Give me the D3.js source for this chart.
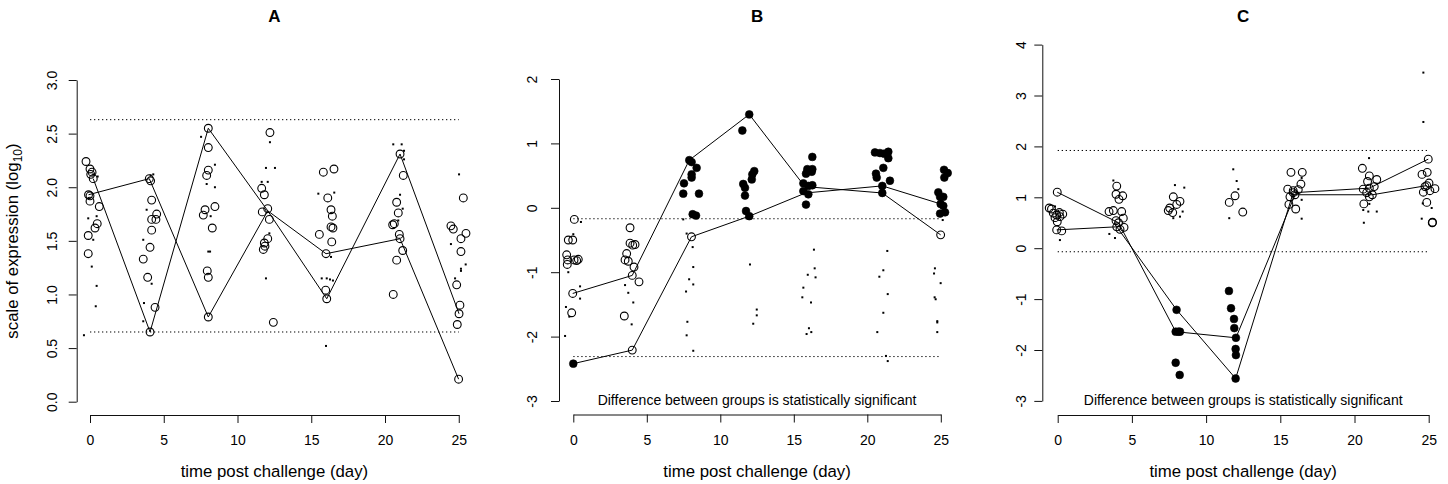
<!DOCTYPE html>
<html>
<head>
<meta charset="utf-8">
<script src="https://cdn.jsdelivr.net/npm/d3@7"></script>
<style>
  html, body { margin: 0; padding: 0; background: #fff; }
  svg { display: block; }
  text { font-family: "Liberation Sans", Arial, Helvetica, sans-serif; fill: #000; }
</style>
</head>
<body>
<svg id="chart" width="1448" height="484"></svg>
<script>
// ---------------- data ----------------
const dayTicks = [0, 5, 10, 15, 20, 25];
const panelTitles = ["A", "B", "C"];
const xTitle = "time post challenge (day)";
const yTitleMain = "scale of expression (log";
const yTitleSub = "10";
const noteText = "Difference between groups is statistically significant";

// Panel A — [day (jittered), log10 expression]
const yTicksA = [0, 0.5, 1, 1.5, 2, 2.5, 3];
const openA = [
  [-0.27,2.24],[0,2.17],[0.05,2.12],[0.14,2.14],[0.22,2.08],[-0.1,1.93],[0,1.92],[0,1.87],[0.63,1.82],[0.49,1.66],[0.34,1.62],[-0.12,1.55],[-0.12,1.38],
  [4.02,2.08],[4.11,2.06],[4.18,1.88],[4.52,1.75],[4.18,1.70],[4.47,1.70],[4.18,1.60],[4.07,1.44],[3.61,1.33],[3.91,1.16],[4.41,0.88],[4.07,0.65],
  [8.02,2.55],[8.02,2.37],[8.02,2.16],[7.91,2.11],[8.47,1.82],[7.68,1.74],[7.8,1.79],[8.29,1.62],[7.95,1.22],[8.02,1.16],[8.02,0.79],
  [12.2,2.51],[11.64,1.99],[11.82,1.93],[12.05,1.80],[11.68,1.77],[12.16,1.70],[12.05,1.52],[11.82,1.48],[11.75,1.42],[11.86,1.45],[12.43,0.74],
  [15.82,2.14],[16.54,2.17],[16.12,1.90],[16.34,1.79],[16.43,1.73],[16.34,1.63],[16.47,1.62],[15.55,1.56],[16.39,1.49],[16.0,1.38],[15.98,1.04],[16.05,0.96],
  [21.02,2.31],[21.24,2.11],[20.79,1.86],[20.9,1.76],[20.63,1.66],[20.52,1.65],[20.97,1.56],[21.02,1.52],[21.2,1.41],[20.79,1.32],[20.56,1.0],
  [25.31,1.90],[24.47,1.64],[24.63,1.61],[25.49,1.57],[25.15,1.52],[25.15,1.40],[24.86,1.09],[25.08,0.90],[25.02,0.82],[24.9,0.72],[24.99,0.21]
];
const filledA = [];
const dotsA = [
  [0.22,2.12],[0.52,2.10],[-0.12,1.71],[0.45,1.73],[0.22,1.51],[0.12,1.26],[0.45,1.08],[0.39,0.89],[-0.41,0.62],
  [4.11,2.11],[4.29,2.12],[3.84,1.79],[3.61,1.51],[4.18,1.10],[3.66,0.92],[3.61,0.75],
  [7.53,2.47],[8.47,2.21],[7.91,2.03],[8.47,2.0],[8.18,1.73],[8.02,1.40],[8.14,1.40],
  [12.2,2.42],[11.93,2.18],[12.54,2.18],[11.64,2.05],[12.05,2.05],[12.16,1.57],[11.93,1.15],
  [15.48,1.94],[16.56,1.95],[16.34,1.35],[15.71,1.15],[16.05,1.15],[16.27,1.14],[16.47,1.13],[16.0,0.52],
  [20.56,2.40],[21.13,2.40],[21.29,2.34],[21.29,2.26],[21.02,1.93],[21.2,1.80],[20.9,1.69],
  [25.02,2.12],[24.47,1.47],[25.15,1.24],[25.15,1.22],[25.47,1.28],[24.75,1.15]
];
const lineA1 = [[-0.1,1.93],[4.02,2.08],[8.02,0.79],[12.05,1.78],[16.0,1.38],[21.02,1.52],[24.99,0.21]];
const lineA2 = [[0.22,2.08],[4.07,0.65],[8.02,2.55],[12.05,1.78],[16.05,0.96],[21.02,2.31],[25.02,0.82]];
const cutA = [2.63, 0.65];

// Panel B
const yTicksB = [-3, -2, -1, 0, 1, 2];
const openB = [
  [0.07,-0.18],[-0.34,-0.50],[-0.04,-0.50],[-0.45,-0.73],[-0.38,-0.81],[-0.41,-0.88],[0.05,-0.81],[0.34,-0.80],[0.23,-0.82],[-0.04,-1.33],[-0.11,-1.63],
  [3.86,-0.31],[3.86,-0.55],[4.04,-0.58],[4.2,-0.57],[3.63,-0.71],[3.52,-0.81],[3.74,-0.83],[4.13,-0.92],[4.01,-1.05],[4.47,-1.15],[3.47,-1.68],[4.01,-2.21],
  [8.04,-0.45],
  [24.99,-0.42]
];
const filledB = [
  [0,-2.42],
  [7.89,0.74],[8.05,0.71],[8.39,0.62],[8.05,0.52],[8.05,0.47],[7.53,0.38],[7.48,0.22],[8.55,0.22],[8.12,-0.10],[8.35,-0.12],
  [11.97,1.45],[11.5,1.20],[12.31,0.57],[12.18,0.52],[12.14,0.44],[11.56,0.37],[11.68,0.31],[11.68,0.19],[11.75,-0.05],[11.97,-0.13],
  [16.26,0.79],[15.92,0.60],[16.26,0.60],[15.83,0.53],[16.22,0.56],[15.65,0.38],[15.99,0.34],[16.26,0.35],[15.65,0.26],[15.99,0.21],[15.83,0.05],
  [20.52,0.86],[20.86,0.85],[21.14,0.84],[21.43,0.87],[21.43,0.77],[21.09,0.62],[20.59,0.53],[20.64,0.47],[21.54,0.42],[21.02,0.34],[21.02,0.23],
  [25.22,0.59],[25.47,0.54],[25.24,0.47],[24.83,0.24],[24.95,0.17],[25.17,0.17],[24.99,0.06],[25.17,0.03],[24.95,-0.09],[25.29,-0.07]
];
const dotsB = [
  [0,-0.41],[0.52,-0.22],[-0.34,-1.0],[0.46,-1.22],[0.46,-1.41],[-0.5,-1.54],[-0.27,-1.69],[-0.56,-1.99],
  [3.52,-1.20],[3.74,-1.32],[4.08,-1.47],[3.97,-1.81],
  [7.48,-0.18],[7.71,-0.40],[8.12,-0.61],[8.16,-0.92],[7.88,-1.11],[8.16,-1.19],[7.67,-1.30],[7.76,-1.77],[7.71,-1.98],[8.16,-2.22],
  [12.02,-0.88],[12.48,-1.58],[12.48,-1.67],[12.24,-1.80],
  [16.37,-0.65],[16.42,-0.94],[15.95,-1.04],[16.48,-1.08],[15.65,-1.24],[15.58,-1.39],[16.17,-1.47],[16.03,-1.87],[15.87,-1.96],[16.19,-1.93],
  [21.36,-0.67],[21.09,-0.97],[20.82,-1.07],[21.39,-1.34],[21.09,-1.63],[20.68,-1.93],[21.27,-2.30],[21.39,-2.38],
  [25.13,-0.19],[24.6,-0.94],[24.54,-1.02],[24.99,-1.17],[24.58,-1.39],[24.65,-1.42],[24.76,-1.76],[24.76,-1.78],[24.76,-1.93]
];
const lineB1 = [[-0.04,-1.33],[4.01,-1.05],[7.89,0.74],[11.97,1.45],[15.75,0.33],[21.02,0.23],[24.99,-0.42]];
const lineB2 = [[0,-2.42],[4.01,-2.21],[8.04,-0.45],[11.97,-0.13],[15.8,0.23],[21.02,0.34],[24.99,0.06]];
const cutB = [-0.17, -2.31];

// Panel C
const yTicksC = [-3, -2, -1, 0, 1, 2, 3, 4];
const openC = [
  [-0.03,1.10],[-0.57,0.79],[-0.42,0.77],[-0.3,0.69],[-0.07,0.65],[0.11,0.70],[0.34,0.67],[-0.03,0.52],[-0.07,0.36],[0.27,0.34],[-0.18,0.60],[0.15,0.62],
  [3.98,1.22],[3.93,1.06],[4.38,1.03],[4.13,0.96],[3.46,0.72],[3.75,0.74],[4.31,0.72],[4.42,0.59],[3.93,0.54],[3.98,0.42],[4.47,0.41],[4.2,0.37],[4.1,0.5],
  [7.79,1.01],[8.24,0.92],[8.02,0.86],[7.55,0.79],[7.45,0.74],[7.75,0.70],
  [11.56,0.90],[11.95,1.03],[12.47,0.71],
  [15.72,1.49],[16.48,1.49],[16.39,1.26],[15.5,1.16],[16.21,1.15],[15.87,1.13],[15.65,1.01],[15.58,0.86],[16.04,0.77],[15.87,1.09],[15.99,1.05],
  [20.53,1.57],[21.0,1.42],[21.5,1.35],[20.88,1.31],[21.33,1.21],[20.59,1.16],[21.0,1.18],[20.82,1.09],[21.0,1.01],[20.63,0.87],[21.2,1.05],
  [24.97,1.75],[24.9,1.49],[24.55,1.45],[25.02,1.28],[24.75,1.21],[25.08,1.13],[25.42,1.17],[24.64,1.10],[24.87,0.90],[25.24,0.50],[25.26,0.51],[24.87,1.23]
];
const filledC = [
  [8.01,-1.21],[7.95,-1.64],[8.13,-1.64],[8.24,-1.64],[7.95,-2.25],[8.22,-2.49],
  [11.54,-0.84],[11.68,-1.18],[11.88,-1.39],[11.9,-1.57],[12.01,-1.76],[11.99,-1.98],[12.01,-2.10],[11.99,-2.56]
];
const dotsC = [
  [-0.18,0.82],[0.15,0.16],[0.04,0.73],
  [3.75,1.33],[3.48,0.28],[3.86,0.20],
  [7.9,1.24],[8.53,1.19],[7.79,0.59],[8.24,0.62],[8.42,0.72],
  [11.83,1.55],[12.06,1.32],[12.17,1.16],[11.56,0.59],
  [16.44,1.38],[16.44,0.95],[16.44,0.58],
  [20.98,1.77],[21.0,0.87],[20.59,0.75],[20.93,0.72],[21.5,0.72],[20.63,0.50],
  [24.64,3.45],[24.64,2.48],[24.6,0.88],[25.2,0.79],[24.53,0.58]
];
const lineC1 = [[-0.03,1.10],[4.1,0.5],[7.95,-1.64],[12.01,-1.76],[15.99,1.05],[21.2,1.05],[24.87,1.23]];
const lineC2 = [[-0.07,0.36],[3.98,0.42],[8.01,-1.21],[11.99,-2.56],[15.87,1.09],[21.0,1.18],[24.97,1.75]];
const cutC = [1.92, -0.07];

// ---------------- layout ----------------
const panels = [
  { title: panelTitles[0], xr: [90, 458.75], yd: [0, 3], yr: [401.7, 80], axX: 76.7, axY: 415, lblGap: 19.5,
    yTicks: yTicksA, fmt: d3.format(".1f"), open: openA, filled: filledA, dots: dotsA, lines: [lineA1, lineA2], cuts: cutA, note: false },
  { title: panelTitles[1], xr: [573.3, 940.8], yd: [-3, 2], yr: [401, 79], axX: 559, axY: 414.5, lblGap: 22,
    yTicks: yTicksB, fmt: d => String(d), open: openB, filled: filledB, dots: dotsB, lines: [lineB1, lineB2], cuts: cutB, note: true },
  { title: panelTitles[2], xr: [1057.7, 1428.7], yd: [-3, 4], yr: [400.9, 44.6], axX: 1042.3, axY: 415, lblGap: 16.5,
    yTicks: yTicksC, fmt: d => String(d), open: openC, filled: filledC, dots: dotsC, lines: [lineC1, lineC2], cuts: cutC, note: true }
];

const svg = d3.select("#chart");
svg.append("rect").attr("width", 1448).attr("height", 484).attr("fill", "#fff");

panels.forEach(p => {
  const x = d3.scaleLinear().domain([0, 25]).range(p.xr);
  const y = d3.scaleLinear().domain(p.yd).range(p.yr);
  const g = svg.append("g");
  const right = x(25) + (x(0) - p.axX);
  const cx = (p.axX + right) / 2;

  // y axis (R style: line spans first to last tick, labels rotated)
  const ya = g.append("g").attr("transform", `translate(${p.axX},0)`)
    .call(d3.axisLeft(y).tickValues(p.yTicks).tickSize(8).tickSizeOuter(0).tickFormat(p.fmt));
  ya.selectAll("path, line").attr("stroke", "#111").attr("stroke-width", 1);
  ya.selectAll("text")
    .attr("x", null).attr("y", null).attr("dy", null)
    .attr("text-anchor", "middle")
    .attr("transform", `translate(${-p.lblGap},0) rotate(-90)`)
    .style("font-size", "14px")
    .style("font-family", '"Liberation Sans", Arial, sans-serif');

  // x axis
  const xa = g.append("g").attr("transform", `translate(0,${p.axY})`)
    .call(d3.axisBottom(x).tickValues(dayTicks).tickSize(8).tickSizeOuter(0).tickFormat(d => String(d)));
  xa.selectAll("path, line").attr("stroke", "#111").attr("stroke-width", 1);
  xa.selectAll("text")
    .attr("y", 30).attr("dy", null)
    .style("font-size", "14px")
    .style("font-family", '"Liberation Sans", Arial, sans-serif');

  // x axis title
  g.append("text").attr("x", cx).attr("y", 476.5).attr("text-anchor", "middle")
    .style("font-size", "16.8px").text(xTitle);

  // panel title
  g.append("text").attr("x", cx).attr("y", 22).attr("text-anchor", "middle")
    .style("font-size", "17px").style("font-weight", "bold").text(p.title);

  // threshold lines
  g.selectAll(".cut").data(p.cuts).join("line")
    .attr("x1", x(0)).attr("x2", x(25))
    .attr("y1", d => y(d)).attr("y2", d => y(d))
    .attr("stroke", "#000").attr("stroke-width", 1).attr("stroke-dasharray", "1.3,2.7");

  // connecting lines
  const line = d3.line().x(d => x(d[0])).y(d => y(d[1]));
  g.selectAll(".trend").data(p.lines).join("path")
    .attr("d", line).attr("fill", "none").attr("stroke", "#000").attr("stroke-width", 1);

  // individual samples
  g.selectAll(".dot").data(p.dots).join("rect")
    .attr("x", d => x(d[0]) - 1).attr("y", d => y(d[1]) - 1)
    .attr("width", 2).attr("height", 2).attr("fill", "#000");
  g.selectAll(".open").data(p.open).join("circle")
    .attr("cx", d => x(d[0])).attr("cy", d => y(d[1])).attr("r", 3.9)
    .attr("fill", "none").attr("stroke", "#000").attr("stroke-width", 1.1);
  g.selectAll(".filled").data(p.filled).join("circle")
    .attr("cx", d => x(d[0])).attr("cy", d => y(d[1])).attr("r", 3.9)
    .attr("fill", "#000").attr("stroke", "#000").attr("stroke-width", 0.6);

  if (p.note) {
    g.append("text").attr("x", cx).attr("y", 405).attr("text-anchor", "middle")
      .style("font-size", "14px").text(noteText);
  }
});

// shared y-axis title on the first panel
const yt = svg.append("text")
  .attr("transform", "translate(17.5,241) rotate(-90)")
  .attr("text-anchor", "middle")
  .style("font-size", "16.8px");
yt.append("tspan").text(yTitleMain);
yt.append("tspan").attr("dy", 4).style("font-size", "12px").text(yTitleSub);
yt.append("tspan").attr("dy", -4).text(")");
</script>
</body>
</html>
